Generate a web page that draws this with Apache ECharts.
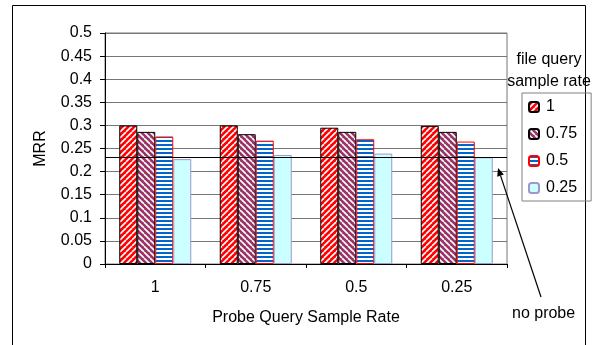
<!DOCTYPE html>
<html>
<head>
<meta charset="utf-8">
<script src="https://cdn.jsdelivr.net/npm/echarts@6/dist/echarts.min.js"></script>
<style>
  html, body { margin: 0; padding: 0; background: #fff; }
  #main { width: 602px; height: 345px; }
</style>
</head>
<body>
<div id="main"></div>
<script>
// probe query sample rate (x categories)
const probeRates = ['1', '0.75', '0.5', '0.25'];
// file query sample rate (series)
const fileRates = ['1', '0.75', '0.5', '0.25'];
const mrr1 = [0.300, 0.300, 0.295, 0.299];
const mrr075 = [0.286, 0.281, 0.286, 0.286];
const mrr05 = [0.276, 0.267, 0.270, 0.265];
const mrr025 = [0.227, 0.236, 0.239, 0.231];
const noProbe = 0.225;

const FONT = 'Liberation Sans, Arial, sans-serif';

function makePattern(size, draw) {
  let c = document.createElement('canvas');
  c.width = size;
  c.height = size;
  let ctx = c.getContext('2d');
  draw(ctx, size);
  return { image: c, repeat: 'repeat' };
}

// red with white "/" stripes
const redFill = makePattern(6, function (ctx, s) {
  ctx.fillStyle = '#ff0000';
  ctx.fillRect(0, 0, s, s);
  ctx.strokeStyle = '#ffffff';
  ctx.lineWidth = 1.6;
  for (let k = -s; k <= 2 * s; k += s) {
    ctx.beginPath();
    ctx.moveTo(k, s);
    ctx.lineTo(k + s, 0);
    ctx.stroke();
  }
});
// purple with white "\" stripes
const purpleFill = makePattern(6, function (ctx, s) {
  ctx.fillStyle = '#993366';
  ctx.fillRect(0, 0, s, s);
  ctx.strokeStyle = '#ffffff';
  ctx.lineWidth = 1.6;
  for (let k = -s; k <= 2 * s; k += s) {
    ctx.beginPath();
    ctx.moveTo(k, 0);
    ctx.lineTo(k + s, s);
    ctx.stroke();
  }
});
// blue horizontal stripes
const blueFill = makePattern(4, function (ctx, s) {
  ctx.fillStyle = '#ffffff';
  ctx.fillRect(0, 0, s, s);
  ctx.fillStyle = '#0066cc';
  ctx.fillRect(0, 0, s, 2);
});

const seriesData = [mrr1, mrr075, mrr05, mrr025];
const fills = [redFill, purpleFill, blueFill, '#ccffff'];
const borders = ['#000000', '#000000', '#ff0000', '#9999cc'];

var chart = echarts.init(document.getElementById('main'));

let series = fileRates.map(function (name, i) {
  let s = {
    name: name,
    type: 'bar',
    data: seriesData[i],
    barWidth: 18,
    barGap: '0%',
    itemStyle: {
      color: fills[i],
      borderColor: borders[i],
      borderWidth: 1
    }
  };
  if (i === 3) {
    s.markLine = {
      silent: true,
      symbol: 'none',
      label: { show: false },
      lineStyle: { color: '#000', width: 1, type: 'solid' },
      data: [{ yAxis: noProbe }]
    };
  }
  return s;
});

let option = {
  animation: false,
  textStyle: { fontFamily: FONT },
  grid: {
    left: 105,
    right: 95,
    top: 33,
    bottom: 81,
    show: true,
    borderColor: '#777',
    borderWidth: 1
  },
  legend: {
    data: fileRates,
    orient: 'vertical',
    left: 522,
    top: 93,
    width: 57,
    padding: [6, 14, 5, 6],
    itemWidth: 10,
    itemHeight: 10,
    itemGap: 11,
    borderColor: '#808080',
    borderWidth: 1,
    textStyle: { fontSize: 16, color: '#000', padding: [0, 0, 0, 2] }
  },
  xAxis: {
    type: 'category',
    data: probeRates,
    name: 'Probe Query Sample Rate',
    nameLocation: 'middle',
    nameGap: 46,
    nameTextStyle: { fontSize: 16, color: '#000' },
    axisLine: { lineStyle: { color: '#000' } },
    axisTick: { show: true, length: 4, lineStyle: { color: '#000' } },
    axisLabel: { fontSize: 16, color: '#000', margin: 16 }
  },
  yAxis: {
    type: 'value',
    min: 0,
    max: 0.5,
    interval: 0.05,
    name: 'MRR',
    nameLocation: 'middle',
    nameGap: 56,
    nameTextStyle: { fontSize: 16, color: '#000' },
    axisLine: { show: true, lineStyle: { color: '#000' } },
    axisTick: { show: true, length: 5, lineStyle: { color: '#000' } },
    axisLabel: { fontSize: 16, color: '#000', margin: 13 },
    splitLine: { lineStyle: { color: '#777', width: 1 } }
  },
  series: series
};

option && chart.setOption(option);

// annotation: outer frame, legend title, "no probe" arrow
let lineY = chart.convertToPixel({ yAxisIndex: 0 }, noProbe);
let tipX = 498, tipY = lineY + 8;
let tailX = 541, tailY = 297;
let ang = Math.atan2(tipY - tailY, tipX - tailX);
let hl = 8, hw = 3.5;
let bx = tipX - hl * Math.cos(ang), by = tipY - hl * Math.sin(ang);
let px = -Math.sin(ang) * hw, py = Math.cos(ang) * hw;

chart.setOption({
  graphic: [
    {
      type: 'rect',
      silent: true,
      shape: { x: 12.5, y: 5.5, width: 573, height: 360 },
      style: { fill: 'none', stroke: '#000', lineWidth: 1 }
    },
    {
      type: 'text',
      silent: true,
      x: 549,
      y: 49,
      style: {
        text: 'file query\nsample rate',
        align: 'center',
        verticalAlign: 'top',
        fill: '#000',
        font: '16px ' + FONT,
        lineHeight: 22
      }
    },
    {
      type: 'line',
      silent: true,
      shape: { x1: tailX, y1: tailY, x2: bx, y2: by },
      style: { stroke: '#000', lineWidth: 1.2 }
    },
    {
      type: 'polygon',
      silent: true,
      shape: { points: [[tipX, tipY], [bx + px, by + py], [bx - px, by - py]] },
      style: { fill: '#000' }
    },
    {
      type: 'text',
      silent: true,
      x: 512,
      y: 306,
      style: {
        text: 'no probe',
        verticalAlign: 'top',
        fill: '#000',
        font: '16px ' + FONT
      }
    }
  ]
});
</script>
</body>
</html>
